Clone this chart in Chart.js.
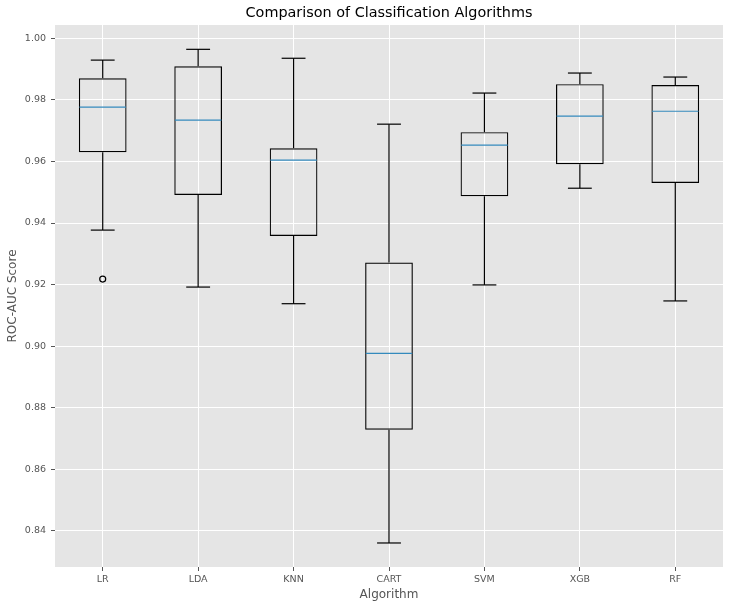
<!DOCTYPE html>
<html><head><meta charset="utf-8">
<script src="https://cdn.jsdelivr.net/npm/chart.js@4.4.0/dist/chart.umd.min.js"></script>
<style>html,body{margin:0;padding:0;background:#fff;} #wrap{width:733px;height:609px;position:relative;}</style>
</head><body><div id="wrap"><canvas id="c"></canvas></div>
<script>
const algorithms = ['LR','LDA','KNN','CART','SVM','XGB','RF'];
const whiskerLow  = [0.9377,0.9192,0.9138,0.8361,0.9199,0.9513,0.9147];
const q1          = [0.9630,0.9491,0.9358,0.8729,0.9487,0.9591,0.9530];
const medians     = [0.9776,0.9734,0.9604,0.8977,0.9653,0.9747,0.9763];
const q3          = [0.9870,0.9909,0.9643,0.9272,0.9695,0.9851,0.9848];
const whiskerHigh = [0.9929,0.9964,0.9935,0.9721,0.9822,0.9887,0.9874];
const outliers    = [0.9218,null,null,null,null,null,null];
const yTicks = [0.84,0.86,0.88,0.90,0.92,0.94,0.96,0.98,1.00];
const yMin = 0.8283, yMax = 1.0043;
const chartTitle = 'Comparison of Classification Algorithms';

const FONT = "'DejaVu Sans', sans-serif";

const boxPlugin = {
  id: 'boxWhiskers',
  beforeDraw(chart) {
    const {ctx, chartArea: a} = chart;
    ctx.save();
    ctx.fillStyle = '#E5E5E5';
    ctx.fillRect(a.left, a.top, a.right - a.left, a.bottom - a.top);
    ctx.restore();
  },
  afterDatasetsDraw(chart) {
    const {ctx} = chart;
    const meta = chart.getDatasetMeta(0);
    const y = chart.scales.y;
    const line = (x1, y1, x2, y2) => { ctx.beginPath(); ctx.moveTo(x1, y1); ctx.lineTo(x2, y2); ctx.stroke(); };
    ctx.save();
    meta.data.forEach((bar, i) => {
      const x = bar.x, w = bar.width;
      const yLo = y.getPixelForValue(whiskerLow[i]);
      const yHi = y.getPixelForValue(whiskerHigh[i]);
      const yQ1 = y.getPixelForValue(q1[i]);
      const yQ3 = y.getPixelForValue(q3[i]);
      const yM = y.getPixelForValue(medians[i]);
      ctx.strokeStyle = '#000';
      ctx.lineWidth = 1.2;
      line(x, yQ3, x, yHi);
      line(x, yQ1, x, yLo);
      line(x - w / 4, yHi, x + w / 4, yHi);
      line(x - w / 4, yLo, x + w / 4, yLo);
      ctx.strokeStyle = '#348ABD';
      line(x - w / 2 + 0.6, yM, x + w / 2 - 0.6, yM);
    });
    ctx.restore();
  },
  afterDraw(chart) {
    const {ctx, chartArea: a} = chart;
    ctx.save();
    ctx.fillStyle = '#000';
    ctx.font = '14.4px ' + FONT;
    ctx.textAlign = 'center';
    ctx.textBaseline = 'middle';
    ctx.fillText(chartTitle, (a.left + a.right) / 2, 13.5);
    ctx.restore();
  }
};

new Chart(document.getElementById('c'), {
  type: 'bar',
  data: {
    labels: algorithms,
    datasets: [
      {
        label: 'IQR',
        data: q1.map((v, i) => [v, q3[i]]),
        backgroundColor: 'rgba(0,0,0,0)',
        borderColor: '#000',
        borderWidth: 1.2,
        borderSkipped: false,
        barPercentage: 0.5,
        categoryPercentage: 1.0
      },
      {
        type: 'line',
        label: 'Outliers',
        data: outliers,
        showLine: false,
        pointStyle: 'circle',
        pointRadius: 3,
        pointBorderColor: '#000',
        pointBackgroundColor: 'rgba(0,0,0,0)',
        pointBorderWidth: 1.2
      }
    ]
  },
  options: {
    responsive: true,
    maintainAspectRatio: false,
    animation: false,
    layout: { padding: { left: 0, right: 10, top: 25, bottom: 0 } },
    plugins: {
      legend: { display: false },
      tooltip: { enabled: false },
      title: { display: false }
    },
    scales: {
      x: {
        offset: true,
        grid: { offset: false, color: '#FFFFFF', lineWidth: 1, tickColor: '#555', tickLength: 4 },
        border: { display: false },
        ticks: { color: '#555', font: { family: FONT, size: 9.5 }, padding: 3, maxRotation: 0 },
        title: { display: true, text: 'Algorithm', color: '#555', font: { family: FONT, size: 12 }, padding: { top: 0, bottom: 7 } },
        afterFit(scale) { scale.height = 42; }
      },
      y: {
        min: yMin,
        max: yMax,
        grid: { color: '#FFFFFF', lineWidth: 1, tickColor: '#555', tickLength: 4 },
        border: { display: false },
        ticks: { color: '#555', font: { family: FONT, size: 9.5 }, padding: 5, callback: v => Number(v).toFixed(2) },
        afterBuildTicks(axis) { axis.ticks = yTicks.map(v => ({ value: v })); },
        title: { display: true, text: 'ROC-AUC Score', color: '#555', font: { family: FONT, size: 12 }, padding: { top: 6, bottom: 4 } },
        afterFit(scale) { scale.width = 55; }
      }
    }
  },
  plugins: [boxPlugin]
});
</script>
</body></html>
